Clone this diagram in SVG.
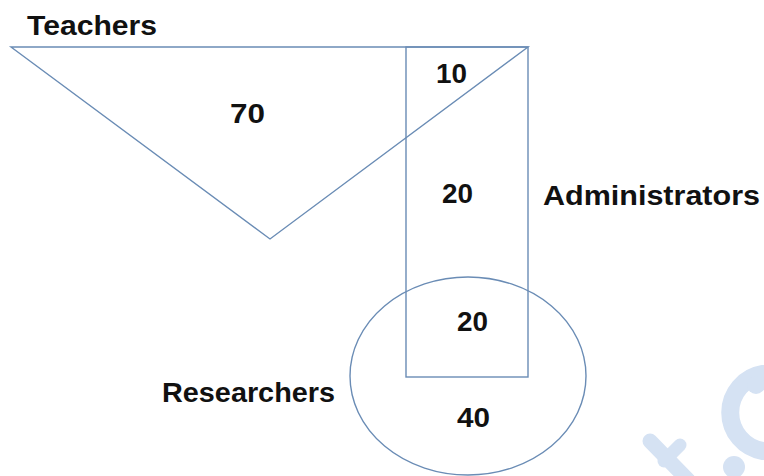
<svg xmlns="http://www.w3.org/2000/svg" width="764" height="476" viewBox="0 0 764 476">
<style>
.shape{fill:none;stroke:#6a8cb5;stroke-width:1.4}
.lbl{font-family:"Liberation Sans",Arial,sans-serif;font-weight:bold;font-size:28px;fill:#111}
.num{font-family:"Liberation Sans",Arial,sans-serif;font-weight:bold;font-size:28px;fill:#111}
.wm{fill:none;stroke:#d5e2f3;stroke-linecap:round}
</style>
<rect width="764" height="476" fill="#ffffff"/>
<g id="watermark">
<path class="wm" d="M763,374 A39,39 0 0 0 763,451" stroke-width="18"/>
<circle cx="756" cy="385" r="9" fill="#d5e2f3"/>
<circle cx="734" cy="467" r="11" fill="#d5e2f3"/>
<line class="wm" x1="650" y1="441" x2="688" y2="480" stroke-width="15"/>
<line class="wm" x1="680" y1="445" x2="664" y2="461" stroke-width="13"/>
</g>
<g id="teachers">
<polygon class="shape" points="11,47 528,47 270,239"/>
<text class="lbl" x="27" y="35" textLength="130" lengthAdjust="spacingAndGlyphs">Teachers</text>
</g>
<g id="administrators">
<rect class="shape" x="406" y="47" width="122" height="330"/>
<text class="lbl" x="543" y="205" textLength="217" lengthAdjust="spacingAndGlyphs">Administrators</text>
</g>
<g id="researchers">
<ellipse class="shape" cx="468" cy="376" rx="118" ry="99"/>
<text class="lbl" x="162" y="402" textLength="173" lengthAdjust="spacingAndGlyphs">Researchers</text>
</g>
<g id="counts">
<text class="num" x="230" y="123" textLength="35" lengthAdjust="spacingAndGlyphs">70</text>
<text class="num" x="436" y="83" textLength="31" lengthAdjust="spacingAndGlyphs">10</text>
<text class="num" x="442" y="203" textLength="31" lengthAdjust="spacingAndGlyphs">20</text>
<text class="num" x="457" y="331" textLength="31" lengthAdjust="spacingAndGlyphs">20</text>
<text class="num" x="457" y="427" textLength="33" lengthAdjust="spacingAndGlyphs">40</text>
</g>
<g id="connectors"></g>
</svg>
